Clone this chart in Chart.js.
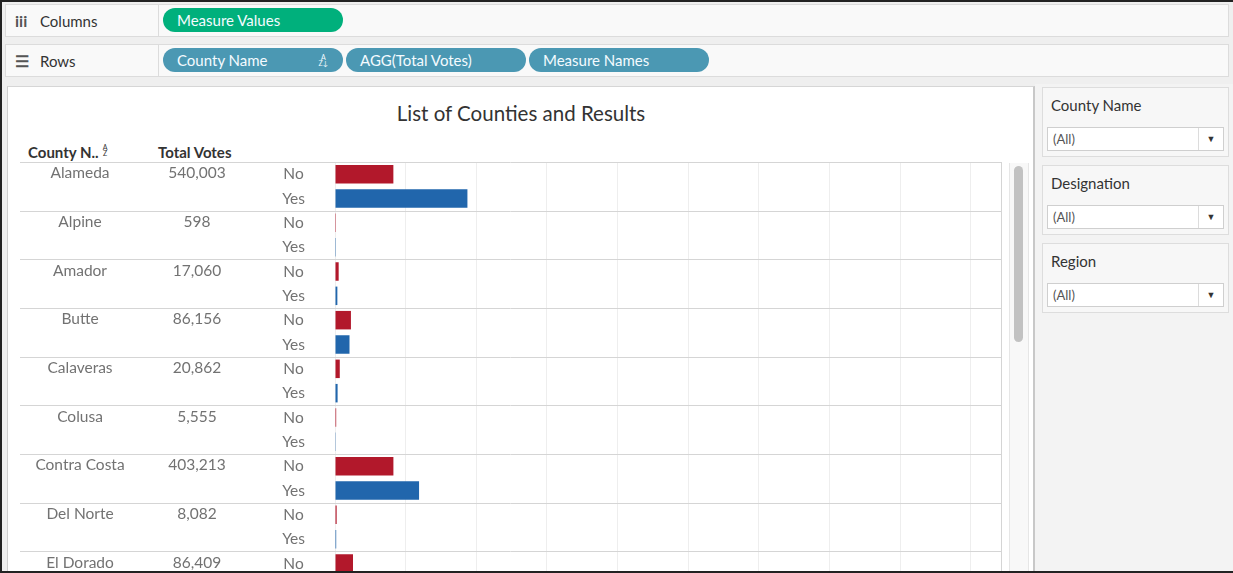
<!DOCTYPE html>
<html>
<head>
<meta charset="utf-8">
<title>List of Counties and Results</title>
<script src="https://cdn.jsdelivr.net/npm/chart.js@4.4.1/dist/chart.umd.min.js"></script>
<style>
  body { margin:0; width:1233px; height:573px; overflow:hidden; position:relative;
         background:#efefef; font-family:Lato,'Open Sans',sans-serif; }
  .frame { position:absolute; left:0; top:0; width:1233px; height:573px; box-sizing:border-box;
           border-top:2px solid #222; border-left:2px solid #222; border-bottom:2px solid #222;
           pointer-events:none; z-index:10; }
  .shelf { position:absolute; left:5px; width:1224px; height:33px; box-sizing:border-box;
           background:#f9f9f9; border:1px solid #dcdcdc; }
  .shelf .lbl { position:absolute; left:0; top:0; width:153px; height:100%; box-sizing:border-box;
                border-right:1px solid #dcdcdc; font-size:15px; color:#333; line-height:31px; padding-left:9px; }
  .shelf .lbl b { display:inline-block; width:25px; color:#555; font-size:16px; }
  .pill { position:absolute; top:3px; height:24px; border-radius:12px; color:#f4fbff;
          font-size:15px; line-height:24px; padding-left:14px; box-sizing:border-box; }
  .pill.green { background:#00b07c; }
  .pill.blue  { background:#4b98b3; }
  .pill .sort { position:absolute; right:15px; top:0; font-size:7px; line-height:6px; padding-top:6px; text-align:center; }

  .view { position:absolute; left:7px; top:86px; width:1028px; height:487px; box-sizing:border-box;
          background:#fff; border-left:1px solid #cfcfcf; border-top:1px solid #d6d6d6;
          border-right:2px solid #c8c8c8; overflow:hidden; }
  .title { position:absolute; left:0; top:14px; width:1026px; text-align:center; font-size:20.5px; color:#333; line-height:24px; }
  .hdr { position:absolute; top:56px; font-size:15px; font-weight:bold; color:#333; line-height:18px; }
  .hdr .az { display:inline-block; font-size:7px; line-height:6px; font-weight:normal; vertical-align:top; margin-left:4px; margin-top:1px; text-align:center; }
  .plot { position:absolute; left:0; top:73px; width:997px; height:442px; }
  .track { position:absolute; left:1001px; top:76px; width:18px; height:420px; background:#f8f8f8;
           border-left:1px solid #e6e6e6; border-right:1px solid #e6e6e6; }
  .thumb { position:absolute; left:1006px; top:79px; width:9px; height:176px; border-radius:5px; background:#c2c2c2; }

  .side { position:absolute; left:1035px; top:84px; width:198px; height:489px; background:#f3f3f3; }
  .card { position:absolute; left:1042px; width:187px; height:70px; box-sizing:border-box;
          background:#f7f7f7; border:1px solid #dddddd; }
  .card .name { position:absolute; left:8px; top:8px; font-size:15px; color:#333; }
  .card .drop { position:absolute; left:4px; top:39px; width:177px; height:24px; box-sizing:border-box;
                background:#fff; border:1px solid #cfcfcf; font-size:13px; color:#555; line-height:22px; padding-left:5px; }
  .card .drop i { position:absolute; right:0; top:0; width:24px; height:22px; border-left:1px solid #dcdcdc;
                  font-style:normal; text-align:center; font-size:9px; color:#333; }
</style>
</head>
<body>
<div class="frame"></div>

<div class="shelf" style="top:4px">
  <div class="lbl"><b>iii</b>Columns</div>
  <div class="pill green" style="left:157px;width:180px">Measure Values</div>
</div>
<div class="shelf" style="top:44px">
  <div class="lbl"><b>&#9776;</b>Rows</div>
  <div class="pill blue" style="left:157px;width:180px">County Name<span class="sort">A<br>Z&#8595;</span></div>
  <div class="pill blue" style="left:340px;width:180px">AGG(Total Votes)</div>
  <div class="pill blue" style="left:523px;width:180px">Measure Names</div>
</div>

<div class="view">
  <div class="title">List of Counties and Results</div>
  <div class="hdr" style="left:20px">County N..<span class="az">A<br>Z</span></div>
  <div class="hdr" style="left:150px">Total Votes</div>
  <div class="plot"><canvas id="chartCounties"></canvas></div>
  <div class="track"></div>
  <div class="thumb"></div>
</div>

<div class="side"></div>
<div class="card" style="top:87px"><div class="name">County Name</div><div class="drop">(All)<i>&#9660;</i></div></div>
<div class="card" style="top:165px"><div class="name">Designation</div><div class="drop">(All)<i>&#9660;</i></div></div>
<div class="card" style="top:243px"><div class="name">Region</div><div class="drop">(All)<i>&#9660;</i></div></div>

<script>
'use strict';

// counties in sheet order, with the No / Yes vote counts per county
const counties   = ['Alameda', 'Alpine', 'Amador', 'Butte', 'Calaveras', 'Colusa', 'Contra Costa', 'Del Norte', 'El Dorado'];
const totalVotes = [540003, 598, 17060, 86156, 20862, 5555, 403213, 8082, 86409];
const noVotes    = [165200, 262, 10380, 45100, 13500, 3350, 165300, 4700, 51000];
const yesVotes   = [374803, 336, 6680, 41056, 7362, 2205, 237913, 3382, 35409];
const measures   = ['No', 'Yes'];

// value axis: gridlines every 200K, axis runs a little past 1.8M
const AXIS_MAX   = 1885000;
const axisTicks  = [0, 200000, 400000, 600000, 800000, 1000000, 1200000, 1400000, 1600000, 1800000];

const COLORS = { No: '#b2182b', Yes: '#2166ac' };
const TEXT = '#727272';
const FONT_FAMILY = "Lato, 'Open Sans', sans-serif";
const FONT = '15.5px ' + FONT_FAMILY;

// one category per county/measure pair
const rowLabels = [], rowValues = [], rowColors = [];
counties.forEach((c, i) => {
  measures.forEach(m => {
    rowLabels.push(m);
    rowValues.push(m === 'No' ? noVotes[i] : yesVotes[i]);
    rowColors.push(COLORS[m]);
  });
});

// county name + total columns and the county separator rules
const tablePane = {
  id: 'tablePane',
  beforeDatasetsDraw(chart) {
    const { ctx, chartArea, scales: { y } } = chart;
    const rowH = y.getPixelForValue(1) - y.getPixelForValue(0);
    ctx.save();
    ctx.strokeStyle = '#d5d5d5';
    ctx.lineWidth = 1;
    for (let i = 0; i <= counties.length; i++) {
      const yy = Math.round(y.getPixelForValue(i * 2) - rowH / 2) + 0.5;
      ctx.beginPath();
      ctx.moveTo(12, yy);
      ctx.lineTo(chartArea.right, yy);
      ctx.stroke();
    }
    ctx.beginPath();
    ctx.moveTo(chartArea.right + 0.5, chartArea.top);
    ctx.lineTo(chartArea.right + 0.5, chartArea.bottom + 40);
    ctx.stroke();

    ctx.fillStyle = TEXT;
    ctx.font = FONT;
    ctx.textAlign = 'center';
    ctx.textBaseline = 'middle';
    counties.forEach((c, i) => {
      const yy = y.getPixelForValue(i * 2) - 1;
      ctx.fillText(c, 72, yy);
      ctx.fillText(totalVotes[i].toLocaleString('en-US'), 189, yy);
    });
    ctx.restore();
  }
};

new Chart(document.getElementById('chartCounties'), {
  type: 'bar',
  data: {
    labels: rowLabels,
    datasets: [{
      label: 'Votes',
      data: rowValues,
      backgroundColor: rowColors,
      borderWidth: 0,
      categoryPercentage: 1,
      barPercentage: 0.76,
    }]
  },
  options: {
    indexAxis: 'y',
    responsive: true,
    maintainAspectRatio: false,
    animation: false,
    layout: { padding: { left: 245, right: 4, top: 2, bottom: 2 } },
    plugins: { legend: { display: false }, tooltip: { enabled: false } },
    scales: {
      x: {
        min: 0, max: AXIS_MAX,
        afterBuildTicks(scale) { scale.ticks = axisTicks.map(v => ({ value: v })); },
        ticks: { display: false },
        grid: { color: '#eeeeee', drawTicks: false },
        border: { display: false },
      },
      y: {
        afterFit(scale) {
          scale.width = 82;
          scale.paddingTop = 0;
          scale.paddingBottom = 0;
        },
        ticks: { color: TEXT, font: { family: FONT_FAMILY, size: 15.5 }, padding: 0, crossAlign: 'center' },
        // tick marks are hidden with the grid; tickLength only spaces the labels off the bars
        grid: { display: false, drawTicks: true, tickLength: 30 },
        border: { display: false },
      }
    }
  },
  plugins: [tablePane]
});
</script>
</body>
</html>
